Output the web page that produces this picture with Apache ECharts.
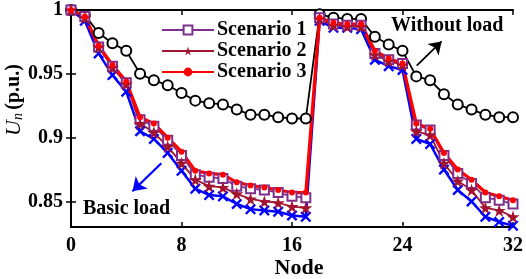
<!DOCTYPE html>
<html>
<head>
<meta charset="utf-8">
<script src="https://cdn.jsdelivr.net/npm/echarts@6/dist/echarts.min.js"></script>
<style>
  html, body { margin: 0; padding: 0; background: #fff; }
  #main { width: 526px; height: 279px; }
</style>
</head>
<body>
<div id="main"></div>
<script>
// node index on the x axis
const nodes = [0, 1, 2, 3, 4, 5, 6, 7, 8, 9, 10, 11, 12, 13, 14, 15, 16,
  17, 18, 19, 20, 21, 22, 23, 24, 25, 26, 27, 28, 29, 30, 31, 32];

const withoutLoad = [1.0, 0.996, 0.982, 0.974, 0.968, 0.950, 0.945, 0.941, 0.935, 0.929, 0.927,
  0.926, 0.922, 0.918, 0.918, 0.916, 0.915, 0.915, 0.9966, 0.994, 0.993, 0.993, 0.979,
  0.973, 0.968, 0.948, 0.945, 0.934, 0.926, 0.922, 0.918, 0.916, 0.916];

const basicLoad = [1.0, 0.9915, 0.966, 0.949, 0.936, 0.905, 0.899, 0.888, 0.874, 0.860, 0.855,
  0.854, 0.848, 0.844, 0.843, 0.842, 0.839, 0.838, 0.9915, 0.986, 0.986, 0.985, 0.961,
  0.956, 0.953, 0.899, 0.895, 0.875, 0.859, 0.850, 0.838, 0.834, 0.831];

const scenario1 = [1.0, 0.995, 0.971, 0.956, 0.943, 0.914, 0.909, 0.898, 0.886, 0.871, 0.869,
  0.868, 0.862, 0.860, 0.859, 0.857, 0.854, 0.853, 0.994, 0.989, 0.988, 0.988, 0.966,
  0.961, 0.958, 0.910, 0.906, 0.886, 0.872, 0.864, 0.853, 0.851, 0.848];

const scenario2 = [1.0, 0.994, 0.971, 0.955, 0.942, 0.911, 0.904, 0.893, 0.880, 0.867, 0.862,
  0.861, 0.856, 0.852, 0.850, 0.849, 0.846, 0.845, 0.993, 0.988, 0.987, 0.987, 0.965,
  0.960, 0.957, 0.905, 0.902, 0.880, 0.866, 0.859, 0.845, 0.843, 0.838];

const scenario3 = [1.0, 0.995, 0.972, 0.957, 0.944, 0.916, 0.911, 0.900, 0.889, 0.874, 0.872,
  0.871, 0.865, 0.8625, 0.861, 0.859, 0.857, 0.857, 0.994, 0.990, 0.989, 0.989, 0.968,
  0.962, 0.958, 0.911, 0.907, 0.888, 0.875, 0.867, 0.857, 0.854, 0.851];

const xTicks = [0, 8, 16, 24, 32];
const yTicks = [0.85, 0.9, 0.95, 1];

const pairs = vals => nodes.map((n, i) => [n, vals[i]]);

const FONT = "'Liberation Serif', 'Times New Roman', serif";
const STAR = 'path://M50,0L61,35L98,35L68,57L79,91L50,70L21,91L32,57L2,35L39,35Z';
const CROSS = 'path://M0,1.5L1.5,0L5,3.5L8.5,0L10,1.5L6.5,5L10,8.5L8.5,10L5,6.5L1.5,10L0,8.5L3.5,5Z';

var chartDom = document.getElementById('main');
var myChart = echarts.init(chartDom, null, { renderer: 'canvas' });

const axisLine = { show: true, lineStyle: { color: '#000', width: 2 } };
const tickStyle = { inside: true, length: 5, lineStyle: { color: '#000', width: 1.5 } };
const labelStyle = { color: '#000', fontFamily: FONT, fontWeight: 'bold', fontSize: 20 };

var option = {
  animation: false,
  grid: { left: 71, right: 11, top: 7, bottom: 52 },
  legend: {
    data: ['Scenario 1', 'Scenario 2', 'Scenario 3'],
    orient: 'vertical',
    left: 161,
    top: 20,
    padding: 0,
    itemWidth: 52,
    itemHeight: 11,
    itemGap: 1,
    textStyle: { color: '#000', fontFamily: FONT, fontWeight: 'bold', fontSize: 20, padding: [0, 0, 0, -2] }
  },
  xAxis: [
    {
      type: 'value', min: 0, max: 32, interval: 8,
      axisLine: axisLine,
      axisTick: tickStyle,
      splitLine: { show: false },
      axisLabel: Object.assign({ margin: 9, customValues: xTicks }, labelStyle)
    },
    {
      type: 'value', position: 'top', min: 0, max: 32, interval: 8,
      axisLine: axisLine,
      axisTick: tickStyle,
      splitLine: { show: false },
      axisLabel: { show: false }
    }
  ],
  yAxis: [
    {
      type: 'value', min: 0.83, max: 1,
      axisLine: axisLine,
      axisTick: Object.assign({ customValues: yTicks }, tickStyle),
      splitLine: { show: false },
      axisLabel: Object.assign({ margin: 8, customValues: yTicks, formatter: v => String(+v.toFixed(2)) }, labelStyle)
    },
    {
      type: 'value', position: 'right', min: 0.83, max: 1,
      axisLine: axisLine,
      axisTick: Object.assign({ customValues: yTicks }, tickStyle),
      splitLine: { show: false },
      axisLabel: { show: false }
    }
  ],
  series: [
    {
      name: 'Without load', type: 'line', data: pairs(withoutLoad),
      symbol: 'emptyCircle', symbolSize: 10,
      lineStyle: { color: '#000', width: 1.8 },
      itemStyle: { color: '#000', borderWidth: 2 },
      markLine: {
        silent: true, symbol: ['none', 'arrow'], symbolSize: 12,
        label: { show: false },
        lineStyle: { color: '#000', width: 1.8, type: 'solid' },
        data: [[{ coord: [25.03, 0.9564] }, { coord: [26.83, 0.9754] }]]
      }
    },
    {
      name: 'Basic load', type: 'line', data: pairs(basicLoad),
      symbol: CROSS, symbolSize: 11,
      lineStyle: { color: '#0000ff', width: 2.5 },
      itemStyle: { color: '#0000ff' },
      markLine: {
        silent: true, symbol: ['none', 'arrow'], symbolSize: 13,
        label: { show: false },
        lineStyle: { color: '#0000ff', width: 2.2, type: 'solid' },
        data: [[{ coord: [6.54, 0.880] }, { coord: [4.45, 0.858] }]]
      }
    },
    {
      name: 'Scenario 1', type: 'line', data: pairs(scenario1),
      symbol: 'emptyRect', symbolSize: 9,
      lineStyle: { color: '#7E2F8E', width: 1.8 },
      itemStyle: { color: '#7E2F8E', borderWidth: 1.5 }
    },
    {
      name: 'Scenario 2', type: 'line', data: pairs(scenario2),
      symbol: STAR, symbolSize: 13,
      lineStyle: { color: '#A2142F', width: 1.8 },
      itemStyle: { color: '#A2142F' }
    },
    {
      name: 'Scenario 3', type: 'line', data: pairs(scenario3),
      symbol: 'circle', symbolSize: 6,
      lineStyle: { color: '#ff0000', width: 3.2 },
      itemStyle: { color: '#ff0000' }
    }
  ],
  graphic: [
    {
      type: 'text', left: 83, top: 199,
      style: { text: 'Basic load', fill: '#000', font: 'bold 20px ' + FONT }
    },
    {
      type: 'text', left: 391, top: 16,
      style: { text: 'Without load', fill: '#000', font: 'bold 20px ' + FONT }
    },
    {
      type: 'text', x: 299, y: 268,
      style: { text: 'Node', fill: '#000', font: 'bold 22px ' + FONT, align: 'center', verticalAlign: 'middle' }
    },
    {
      type: 'text', x: 14, y: 100, rotation: Math.PI / 2,
      style: {
        text: '{u|U}{n|n} {b|(p.u.)}',
        align: 'center', verticalAlign: 'middle',
        rich: {
          u: { fontFamily: FONT, fontStyle: 'italic', fontSize: 22, fill: '#000', color: '#000' },
          n: { fontFamily: FONT, fontStyle: 'italic', fontSize: 14, fill: '#000', color: '#000', verticalAlign: 'bottom', padding: [8, 0, 0, 0] },
          b: { fontFamily: FONT, fontWeight: 'bold', fontSize: 20, fill: '#000', color: '#000' }
        }
      }
    }
  ]
};

option && myChart.setOption(option);
</script>
</body>
</html>
